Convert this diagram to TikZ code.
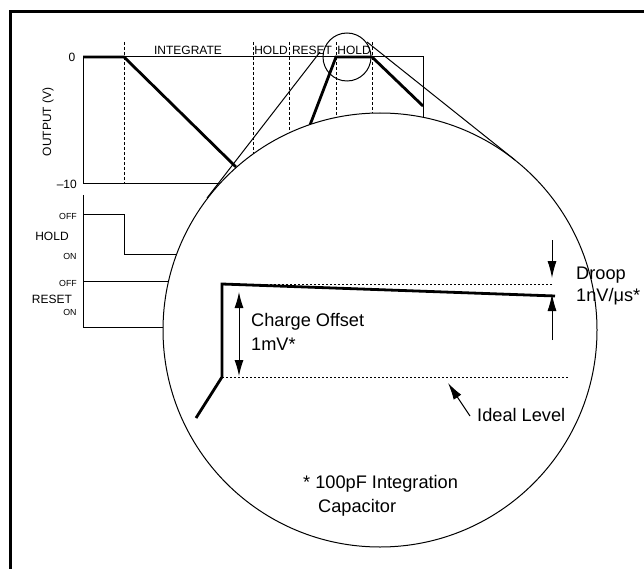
\documentclass[tikz,border=0pt]{standalone}
\usepackage{fontspec}
\setmainfont{Liberation Sans}
\usetikzlibrary{arrows.meta}

\begin{document}
\begin{tikzpicture}[x=1pt, y=-1pt,
  thinline/.style = {line width=1pt},
  wave/.style = {line width=2.8pt},
  marker/.style = {line width=1pt, dash pattern=on 3pt off 2pt},
  level/.style = {line width=0.8pt, dash pattern=on 2pt off 2pt},
  lbl/.style = {inner sep=0pt, font=\fontsize{12}{14}\selectfont},
  tiny/.style = {inner sep=0pt, font=\fontsize{8.8}{10}\selectfont},
  big/.style = {inner sep=0pt, anchor=west, font=\fontsize{18.2}{22}\selectfont},
  tip/.style = {line width=1pt, -{Latex[length=17pt, width=9pt]}}]
\useasboundingbox (0,0) rectangle (644,569);
% frame
\draw[line width=3pt] (10.5,569) -- (10.5,12) -- (644,12);
% output plot
\draw[thinline] (83,57) rectangle (423,184);
\foreach \x in {124,253,289,336,372}
  \draw[marker] (\x,42) -- (\x,184);
\node[lbl] (integrate) at (188,50) {INTEGRATE};
\node[lbl] (hold1) at (271,50) {HOLD};
\node[lbl] (reset) at (312,50) {RESET};
\node[lbl] (hold2) at (354,50) {HOLD};
\node[lbl] (zero) at (72,57) {0};
\node[lbl, anchor=east] (minten) at (77,184) {–10};
\node[lbl, rotate=90] (yaxis) at (48,122) {OUTPUT (V)};
\draw[wave] (83,57) -- (124,57) -- (236,167);
\draw[wave] (310,125) -- (336,57) -- (372,57) -- (423,106);
% control signals
\draw[thinline] (83,195) -- (83,327);
\draw[thinline] (83,214) -- (124,214) -- (124,254) -- (200,254);
\draw[thinline] (83,281) -- (200,281);
\draw[thinline] (83,327) -- (200,327);
\node[tiny] (off1) at (68,216) {OFF};
\node[lbl] (holdsig) at (52,236) {HOLD};
\node[tiny] (on1) at (70,256) {ON};
\node[tiny] (off2) at (68,283) {OFF};
\node[lbl] (resetsig) at (52,299) {RESET};
\node[tiny] (on2) at (70,312) {ON};
% magnifier
\draw[thinline, fill=white] (380,330) circle[radius=217];
\draw[thinline] (347,57) circle[radius=24];
\draw[thinline] (320,52) -- (207,198);
\draw[thinline] (367,42) -- (515,160);
% zoomed hold step
\draw[level] (222,284) -- (553,284);
\draw[level] (222,377) -- (568,377);
\draw[wave, line join=miter] (196,418) -- (222,377) -- (222,284) -- (555,296);
\draw[thinline, {Latex[length=16pt, width=9pt]}-{Latex[length=16pt, width=9pt]}] (239,292) -- (239,376);
\node[big] (offset) at (251,322) {Charge Offset};
\node[big] (offsetval) at (251,344) {1mV*};
\draw[tip] (552,240) -- (552,278);
\draw[tip] (552,340) -- (552,294);
\node[big] (droop) at (576,275) {Droop};
\node[big] (droopval) at (576,297) {1nV/μs*};
\draw[tip] (470,416) -- (448,383);
\node[big] (ideal) at (477,415) {Ideal Level};
\node[big] (note) at (303,484) {* 100pF Integration};
\node[big] (notecont) at (318,508) {Capacitor};
\end{tikzpicture}
\end{document}
